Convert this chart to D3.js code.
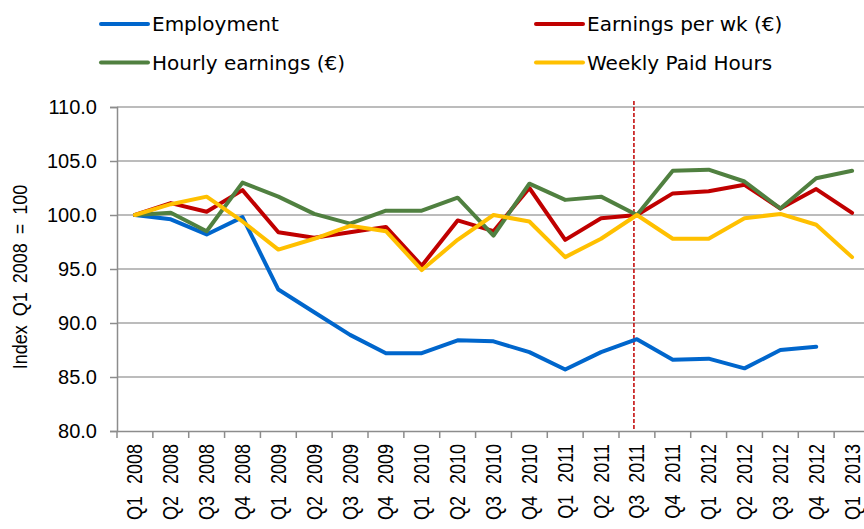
<!DOCTYPE html>
<html><head><meta charset="utf-8">
<script src="https://cdn.jsdelivr.net/npm/d3@7"></script>
<style>body{margin:0;background:#fff}svg{display:block}</style>
</head><body>
<svg id="c" width="864" height="529"></svg>
<script>
const categories = ["Q1 2008","Q2 2008","Q3 2008","Q4 2008","Q1 2009","Q2 2009","Q3 2009","Q4 2009","Q1 2010","Q2 2010","Q3 2010","Q4 2010","Q1 2011","Q2 2011","Q3 2011","Q4 2011","Q1 2012","Q2 2012","Q3 2012","Q4 2012","Q1 2013"];
const employment = [100.0,99.6,98.2,99.8,93.1,91.0,88.9,87.2,87.2,88.4,88.3,87.3,85.7,87.3,88.5,86.6,86.7,85.8,87.5,87.8,null];
const earningsPerWk = [100.0,101.1,100.3,102.3,98.4,97.9,98.4,98.9,95.3,99.5,98.5,102.5,97.7,99.7,100.0,102.0,102.2,102.8,100.6,102.4,100.2];
const hourlyEarnings = [100.0,100.2,98.5,103.0,101.7,100.1,99.2,100.4,100.4,101.6,98.1,102.9,101.4,101.7,100.0,104.1,104.2,103.1,100.6,103.4,104.1];
const weeklyPaidHours = [100.0,101.0,101.7,99.4,96.8,97.8,99.0,98.5,94.9,97.7,100.0,99.4,96.1,97.8,100.0,97.8,97.8,99.7,100.1,99.1,96.1];
const yTicks = [80,85,90,95,100,105,110];
const markerCategory = "Q3 2011";

const series = [
  {name:"Employment", values:employment, color:"#0066CC"},
  {name:"Earnings per wk (€)", values:earningsPerWk, color:"#C00000"},
  {name:"Hourly earnings (€)", values:hourlyEarnings, color:"#508040"},
  {name:"Weekly Paid Hours", values:weeklyPaidHours, color:"#FFC000"}
];

const svg = d3.select("#c");
const pLeft = 117, pRight = 870, pTop = 107, pBottom = 431;
const x = d3.scaleBand().domain(categories).range([pLeft, pRight]);
const y = d3.scaleLinear().domain([80,110]).range([pBottom, pTop]);
const gray = "#8c8c8c";

// gridlines
svg.append("g").selectAll("line").data(yTicks.filter(d=>d>80)).join("line")
  .attr("x1", pLeft).attr("x2", 864)
  .attr("y1", d=>y(d)).attr("y2", d=>y(d))
  .attr("stroke", "#a6a6a6").attr("stroke-width", 1.5);

// y axis
const yAxis = svg.append("g").attr("transform", `translate(${pLeft},0)`)
  .call(d3.axisLeft(y).tickValues(yTicks).tickFormat(d3.format(".1f")).tickSize(7).tickPadding(13));
yAxis.select(".domain").attr("stroke", gray).attr("stroke-width", 1.5);
yAxis.selectAll(".tick line").attr("stroke", gray).attr("stroke-width", 1.5);
yAxis.selectAll("text").attr("font-family", "Liberation Sans, Arial, sans-serif").attr("font-size", 20).attr("fill", "#000");

// x axis
const xAxis = svg.append("g").attr("transform", `translate(0,${pBottom})`)
  .call(d3.axisBottom(x).tickSize(0).tickPadding(0));
xAxis.select(".domain").attr("stroke", gray).attr("stroke-width", 1.5);
xAxis.selectAll(".tick text")
  .attr("font-family", "Liberation Sans, Arial, sans-serif").attr("font-size", 18).attr("fill", "#000")
  .attr("word-spacing", "7px")
  .attr("transform", "rotate(-90) scale(1,1.2)").attr("text-anchor", "end")
  .attr("x", -13).attr("y", 0).attr("dy", "0.35em");
// tick marks between categories
const bounds = d3.range(categories.length + 1).map(i => pLeft + i * x.step());
svg.append("g").selectAll("line").data(bounds).join("line")
  .attr("x1", d=>d).attr("x2", d=>d).attr("y1", pBottom).attr("y2", pBottom + 7)
  .attr("stroke", gray).attr("stroke-width", 1.5);

// y axis title
svg.append("text")
  .attr("transform", `translate(20,${(pTop+pBottom)/2+8}) rotate(-90) scale(1,1.1)`)
  .attr("text-anchor", "middle").attr("dy", "0.35em")
  .attr("font-family", "Liberation Sans, Arial, sans-serif").attr("font-size", 18)
  .attr("word-spacing", "4px")
  .text("Index Q1 2008 = 100");

// dashed marker line
const mx = x(markerCategory) + x.bandwidth()/2 - 3;
svg.append("line").attr("x1", mx).attr("x2", mx).attr("y1", 101).attr("y2", pBottom)
  .attr("stroke", "#C00000").attr("stroke-width", 1.5).attr("stroke-dasharray", "4,2");

// lines
const line = d3.line()
  .defined(d => d.v != null)
  .x(d => x(d.c) + x.bandwidth()/2)
  .y(d => y(d.v));
series.forEach(s => {
  svg.append("path")
    .datum(categories.map((c,i)=>({c, v:s.values[i]})))
    .attr("fill","none").attr("stroke", s.color).attr("stroke-width", 4)
    .attr("stroke-linejoin","round").attr("stroke-linecap","round")
    .attr("d", line);
});

// legend
const legendPos = [[101,24],[536,24],[101,62.5],[536,62.5]];
series.forEach((s,i) => {
  const [lx, ly] = legendPos[i];
  svg.append("line").attr("x1", lx).attr("x2", lx+47).attr("y1", ly).attr("y2", ly)
    .attr("stroke", s.color).attr("stroke-width", 4).attr("stroke-linecap","round");
  svg.append("text").attr("x", lx+51).attr("y", ly).attr("dy","0.35em")
    .attr("font-family", "DejaVu Sans, sans-serif").attr("font-size", 20)
    .text(s.name);
});
</script>
</body></html>
